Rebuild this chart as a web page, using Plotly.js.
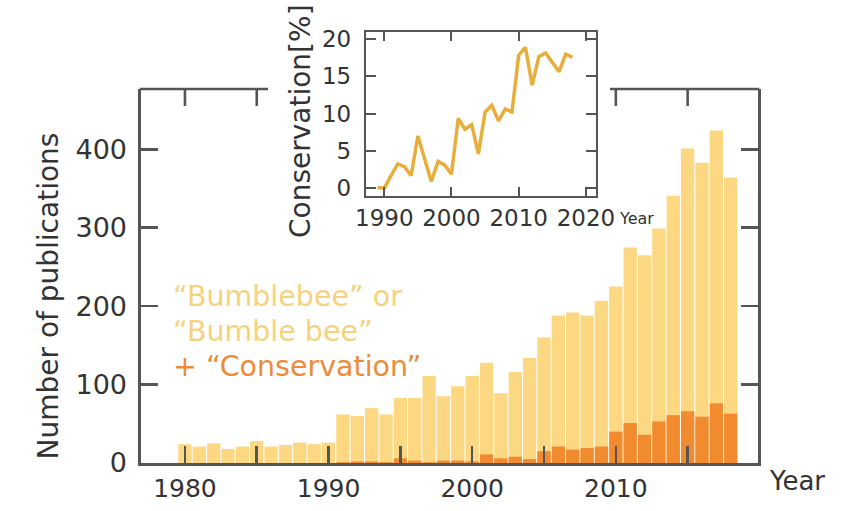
<!DOCTYPE html>
<html>
<head>
<meta charset="utf-8">
<script src="https://cdn.plot.ly/plotly-3.0.1.min.js"></script>
<style>html,body{margin:0;padding:0;background:#fff;}#chart{width:842px;height:511px;}</style>
</head>
<body>
<div id="chart"></div>
<script>
// Main chart data
const years = [1980,1981,1982,1983,1984,1985,1986,1987,1988,1989,1990,1991,1992,1993,1994,1995,1996,1997,1998,1999,2000,2001,2002,2003,2004,2005,2006,2007,2008,2009,2010,2011,2012,2013,2014,2015,2016,2017,2018];
const bumblebee = [24,21,25,18,21,28,21,23,26,24,26,62,60,70,62,83,83,111,85,98,111,128,89,116,134,160,188,192,188,207,225,275,265,299,341,401,383,424,364];
const conservation = [0,0,0,0,0,0,0,0,0,0,0,1,2,2,1,6,3,1,3,3,2,11,6,8,5,15,21,17,19,21,40,51,36,53,61,66,59,76,63];

// Inset data
const insetYears = [1989,1990,1991,1992,1993,1994,1995,1996,1997,1998,1999,2000,2001,2002,2003,2004,2005,2006,2007,2008,2009,2010,2011,2012,2013,2014,2015,2016,2017,2018];
const conservationPct = [0.1,0,1.7,3.25,2.9,1.7,7.0,3.8,0.9,3.6,3.1,1.9,9.35,7.9,8.5,4.6,10.2,11.1,9.0,10.6,10.2,17.8,18.85,13.8,17.6,18.1,16.9,15.6,17.95,17.5];

// Tick labels
const mainXTicks = [1980,1985,1990,1995,2000,2005,2010,2015];
const mainXTickText = ['1980','','1990','','2000','','2010',''];
const mainYTicks = [0,100,200,300,400];
const topTickYears = [1980,1985,2010,2015];

const FONT = 'DejaVu Sans, sans-serif';
const AX = '#555555';
const YELLOW = '#FDD882';
const ORANGE = '#F28B2F';

const traces = [
  {type:'bar', x:years, y:bumblebee, marker:{color:YELLOW}, xaxis:'x', yaxis:'y', hoverinfo:'skip'},
  {type:'bar', x:years, y:conservation, marker:{color:ORANGE}, xaxis:'x', yaxis:'y', hoverinfo:'skip'},
  {type:'scatter', mode:'lines', x:insetYears, y:conservationPct, line:{color:'#E8AE3C', width:3.5}, xaxis:'x2', yaxis:'y2', hoverinfo:'skip'}
];

const shapes = [
  // top border of main frame, broken where the inset sits
  {type:'line', xref:'paper', yref:'paper', x0:-0.002, x1:(268-141)/617, y0:0.8442, y1:0.8442, line:{color:AX, width:2.6}},
  {type:'line', xref:'paper', yref:'paper', x0:(610-141)/617, x1:1.002, y0:0.8442, y1:0.8442, line:{color:AX, width:2.6}}
];
topTickYears.forEach(function(yr){
  shapes.push({type:'line', xref:'x', yref:'paper', x0:yr, x1:yr, y0:0.8442, y1:0.8442-17/443, line:{color:AX, width:2.6}});
});

const layout = {
  width:842, height:511,
  margin:{l:141, r:84, t:20, b:48},
  paper_bgcolor:'#fff', plot_bgcolor:'rgba(0,0,0,0)',
  showlegend:false,
  barmode:'overlay', bargap:0.07,
  font:{family:FONT, color:'#333'},
  xaxis:{
    domain:[0,1], range:[1976.94,2019.9], anchor:'y',
    tickmode:'array', tickvals:mainXTicks, ticktext:mainXTickText,
    ticks:'inside', ticklen:17, tickwidth:2.6, tickcolor:AX,
    showline:true, linecolor:AX, linewidth:2.6, mirror:false,
    showgrid:false, zeroline:false,
    tickfont:{size:25, color:'#333', family:FONT}, ticklabelstandoff:1
  },
  yaxis:{
    domain:[0,0.8442], range:[0,477], anchor:'x',
    tickmode:'array', tickvals:mainYTicks,
    ticks:'inside', ticklen:17, tickwidth:2.6, tickcolor:AX,
    showline:true, linecolor:AX, linewidth:2.6, mirror:'ticks',
    showgrid:false, zeroline:false,
    tickfont:{size:27, color:'#333', family:FONT}, ticklabelstandoff:6
  },
  xaxis2:{
    domain:[(366-141)/617,(596-141)/617], range:[1987.28,2021.5], anchor:'y2',
    tickmode:'linear', tick0:1990, dtick:10,
    ticks:'inside', ticklen:9, tickwidth:2, tickcolor:AX,
    showline:true, linecolor:AX, linewidth:2.2, mirror:'ticks',
    showgrid:false, zeroline:false,
    tickfont:{size:23, color:'#333', family:FONT}, ticklabelstandoff:0
  },
  yaxis2:{
    domain:[(463-196)/443,(463-32.3)/443], range:[-1.03,20.86], anchor:'x2',
    tickmode:'linear', tick0:0, dtick:5,
    ticks:'inside', ticklen:10, tickwidth:2, tickcolor:AX,
    showline:true, linecolor:AX, linewidth:2.2, mirror:'ticks',
    showgrid:false, zeroline:false,
    tickfont:{size:23, color:'#333', family:FONT}, ticklabelstandoff:8
  },
  shapes:shapes,
  annotations:[
    {text:'Number of publications', textangle:-90, xref:'paper', yref:'paper', x:(47.5-141)/617, y:(463-296)/443, showarrow:false, xanchor:'center', yanchor:'middle', font:{size:28, color:'#333', family:FONT}},
    {text:'Year', xref:'paper', yref:'paper', x:(797-141)/617, y:(463-481)/443, showarrow:false, xanchor:'center', yanchor:'middle', font:{size:26, color:'#333', family:FONT}},
    {text:'Conservation[%]', textangle:-90, xref:'paper', yref:'paper', x:(300-141)/617, y:(463-121)/443, showarrow:false, xanchor:'center', yanchor:'middle', font:{size:28, color:'#333', family:FONT}},
    {text:'Year', xref:'paper', yref:'paper', x:(617-141)/617, y:(463-218)/443, showarrow:false, xanchor:'left', yanchor:'middle', font:{size:16, color:'#333', family:FONT}},
    {text:'“Bumblebee” or', xref:'paper', yref:'paper', x:(171-141)/617, y:(463-296)/443, showarrow:false, xanchor:'left', yanchor:'middle', font:{size:28.5, color:'#F7D27C', family:FONT}},
    {text:'“Bumble bee”', xref:'paper', yref:'paper', x:(171-141)/617, y:(463-331)/443, showarrow:false, xanchor:'left', yanchor:'middle', font:{size:28.5, color:'#F7D27C', family:FONT}},
    {text:'+ “Conservation”', xref:'paper', yref:'paper', x:(171-141)/617, y:(463-366)/443, showarrow:false, xanchor:'left', yanchor:'middle', font:{size:28.5, color:'#EE8A38', family:FONT}}
  ]
};

Plotly.newPlot('chart', traces, layout, {staticPlot:true, displayModeBar:false});
</script>
</body>
</html>
